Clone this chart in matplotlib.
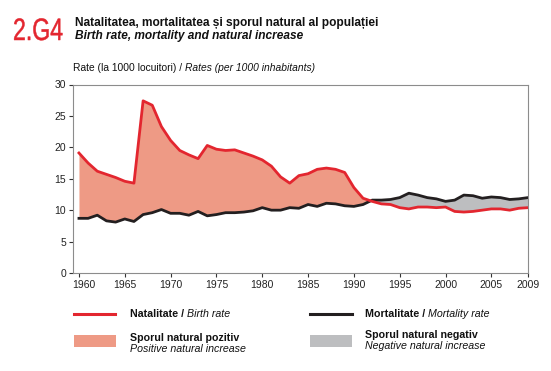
import matplotlib
matplotlib.use("Agg")
from matplotlib import pyplot as plt
from matplotlib.lines import Line2D
from matplotlib.patches import Rectangle, PathPatch
from matplotlib.textpath import TextPath
from matplotlib.font_manager import FontProperties
from matplotlib.transforms import Affine2D, ScaledTranslation
import numpy as np

plt.rcParams['font.family'] = ['Liberation Sans', 'DejaVu Sans']

# years and rates per 1000 inhabitants
years = list(range(1960, 2010))
birth_rate = [19.1, 17.5, 16.2, 15.7, 15.2, 14.6, 14.3, 27.4, 26.7, 23.3,
              21.1, 19.5, 18.8, 18.2, 20.3, 19.7, 19.5, 19.6, 19.1, 18.6,
              18.0, 17.0, 15.3, 14.3, 15.5, 15.8, 16.5, 16.7, 16.5, 16.0,
              13.6, 11.9, 11.4, 11.0, 10.9, 10.4, 10.2, 10.5, 10.5, 10.4,
              10.5, 9.8, 9.7, 9.8, 10.0, 10.2, 10.2, 10.0, 10.3, 10.4]
death_rate = [8.7, 8.7, 9.2, 8.3, 8.1, 8.6, 8.2, 9.3, 9.6, 10.1,
              9.5, 9.5, 9.2, 9.8, 9.1, 9.3, 9.6, 9.6, 9.7, 9.9,
              10.4, 10.0, 10.0, 10.4, 10.3, 10.9, 10.6, 11.1, 11.0, 10.7,
              10.6, 10.9, 11.6, 11.6, 11.7, 12.0, 12.7, 12.4, 12.0, 11.8,
              11.4, 11.6, 12.4, 12.3, 11.9, 12.1, 12.0, 11.7, 11.8, 12.0]
xticks = [1960, 1965, 1970, 1975, 1980, 1985, 1990, 1995, 2000, 2005, 2009]

RED = '#E3262F'
SALMON = '#EE9A85'
GREY = '#BDBEC0'
BLACK = '#231F20'
W, H = 551, 371

fig = plt.figure(figsize=(5.51, 3.71), dpi=100)
ax = fig.add_axes([73/W, 98/H, 455/W, 188.5/H])

b = np.array(birth_rate)
d = np.array(death_rate)
ax.fill_between(years, d, b, where=b >= d, interpolate=True, color=SALMON, lw=0)
ax.fill_between(years, d, b, where=b <= d, interpolate=True, color=GREY, lw=0)
ax.plot(years, death_rate, color=BLACK, lw=2, solid_joinstyle='round')
ax.plot(years, birth_rate, color=RED, lw=2, solid_joinstyle='round')

ax.set_xlim(1959.35, 2009)
ax.set_ylim(0, 30)
ax.set_xticks(xticks)
ax.set_yticks(range(0, 31, 5))
for s in ax.spines.values():
    s.set_color('#8C8C8C')
    s.set_linewidth(0.8)
ax.tick_params(axis='both', labelsize=7.5, color='#333333', length=3, width=0.8,
               pad=2, labelcolor='#222222')
# first year label sits a bit to the right, clear of the axis
first = ax.get_xticklabels()[0]
first.set_transform(first.get_transform() + ScaledTranslation(5/100, 0, fig.dpi_scale_trans))

renderer = fig.canvas.get_renderer()


def put_parts(x, y, parts, size):
    # write text pieces one after another on the same baseline (pixel coords from top-left)
    cur = x
    for txt, kw in parts:
        t = fig.text(cur / W, 1 - y / H, txt, fontsize=size, color='#111111', **kw)
        cur += t.get_window_extent(renderer).width


# big condensed chapter number
path = TextPath((0, 0), '2.G4', size=31, prop=FontProperties(family='Liberation Sans'))
tr = Affine2D().scale(0.745, 1).translate(13, H - 40).scale(1 / W, 1 / H) + fig.transFigure
fig.add_artist(PathPatch(path, transform=tr, facecolor=RED, edgecolor=RED, lw=0.35))

fig.text(75/W, 1 - 26/H, 'Natalitatea, mortalitatea și sporul natural al populației',
         fontsize=8.6, fontweight='bold', color='#111111')
fig.text(75/W, 1 - 39/H, 'Birth rate, mortality and natural increase',
         fontsize=8.6, fontweight='bold', style='italic', color='#111111')
put_parts(73, 71, [('Rate (la 1000 locuitori) / ', {}),
                   ('Rates (per 1000 inhabitants)', {'style': 'italic'})], 7.4)

# legend
fig.add_artist(Line2D([74/W, 115/W], [1 - 314/H] * 2, color=RED, lw=2.2))
fig.add_artist(Line2D([310/W, 352/W], [1 - 314/H] * 2, color=BLACK, lw=2.2))
fig.add_artist(Rectangle((74/W, 1 - 347/H), 42/W, 12/H, color=SALMON, lw=0))
fig.add_artist(Rectangle((310/W, 1 - 347/H), 42/W, 12/H, color=GREY, lw=0))

LS = 7.7
put_parts(130, 317, [('Natalitate / ', {'fontweight': 'bold'}),
                     ('Birth rate', {'style': 'italic'})], LS)
put_parts(365, 317, [('Mortalitate / ', {'fontweight': 'bold'}),
                     ('Mortality rate', {'style': 'italic'})], LS)
fig.text(130/W, 1 - 341/H, 'Sporul natural pozitiv', fontsize=LS, fontweight='bold', color='#111111')
fig.text(130/W, 1 - 352/H, 'Positive natural increase', fontsize=LS, style='italic', color='#111111')
fig.text(365/W, 1 - 338/H, 'Sporul natural negativ', fontsize=LS, fontweight='bold', color='#111111')
fig.text(365/W, 1 - 349/H, 'Negative natural increase', fontsize=LS, style='italic', color='#111111')

fig.savefig('out.png', dpi=100)
